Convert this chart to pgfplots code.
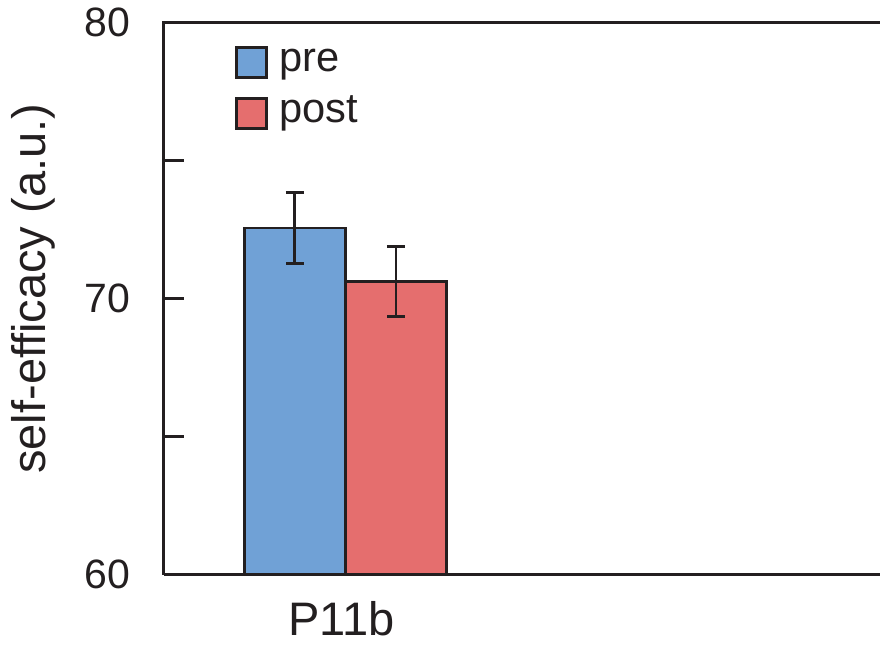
\documentclass[border=0pt]{standalone}
\usepackage{pgfplots}
\pgfplotsset{compat=1.18}
\usepackage{fontspec}
\setmainfont{Liberation Sans}
\definecolor{axcol}{HTML}{231F20}
\definecolor{preblue}{RGB}{112,161,214}
\definecolor{postred}{RGB}{229,110,110}
\begin{document}
\begin{tikzpicture}
\begin{axis}[
  name=ax,
  scale only axis,
  width=358pt, height=276pt,
  xmin=-1.292, xmax=5.783,
  ymin=60, ymax=80,
  axis x line*=bottom, axis y line*=left,
  axis line style={axcol, line width=1.5pt, -},
  ytick={60,65,70,75,80},
  yticklabels={60,,70,,80},
  xtick={0.46}, xticklabels={P11b},
  tick align=inside,
  major tick length=10pt,
  y tick style={axcol, line width=1.5pt},
  x tick style={draw=none},
  /pgf/number format/assume math mode=true,
  yticklabel style={font=\fontsize{20.5}{24}\selectfont, inner sep=0pt, xshift=-16.5pt, text=axcol},
  xticklabel style={font=\fontsize{23.5}{27}\selectfont, inner sep=0pt, yshift=-13pt, text=axcol},
  ylabel={self-efficacy (a.u.)},
  ylabel style={font=\fontsize{23.5}{28}\selectfont, at={(axis description cs:0,0.518)}, anchor=center, rotate=0, yshift=65.25pt, text=axcol},
]
\addplot[ybar, bar width=1, bar shift=0pt, fill=preblue, draw=axcol, line width=1.4pt,
  error bars/.cd, y dir=both, y explicit,
  error bar style={axcol, line width=1.3pt},
  error mark options={rotate=90, mark size=4.5pt, axcol, line width=1.3pt}]
  coordinates {(0,72.56) +- (0,1.285)};
\addplot[ybar, bar width=1, bar shift=0pt, fill=postred, draw=axcol, line width=1.4pt,
  error bars/.cd, y dir=both, y explicit,
  error bar style={axcol, line width=1.3pt},
  error mark options={rotate=90, mark size=4.5pt, axcol, line width=1.3pt}]
  coordinates {(1,70.62) +- (0,1.27)};
\end{axis}
\draw[axcol, line width=1.5pt] ([xshift=-0.75pt]ax.north west) -- (ax.north east);
% legend
\draw[fill=preblue, draw=axcol, line width=1.5pt] ([xshift=36.5pt,yshift=-12.4pt]ax.north west) rectangle ([xshift=51.25pt,yshift=-27.4pt]ax.north west);
\draw[fill=postred, draw=axcol, line width=1.5pt] ([xshift=36.5pt,yshift=-37.9pt]ax.north west) rectangle ([xshift=51.25pt,yshift=-52.9pt]ax.north west);
\node[anchor=base west, inner sep=0pt, text=axcol, font=\fontsize{20.8}{25}\selectfont] at ([xshift=57.65pt,yshift=-24.5pt]ax.north west) {pre};
\node[anchor=base west, inner sep=0pt, text=axcol, font=\fontsize{20.8}{25}\selectfont] at ([xshift=57.65pt,yshift=-50pt]ax.north west) {post};
\pgfresetboundingbox
\path ([xshift=-82pt,yshift=-35.5pt]ax.south west) rectangle ([yshift=11.35pt]ax.north east);
\end{tikzpicture}
\end{document}
